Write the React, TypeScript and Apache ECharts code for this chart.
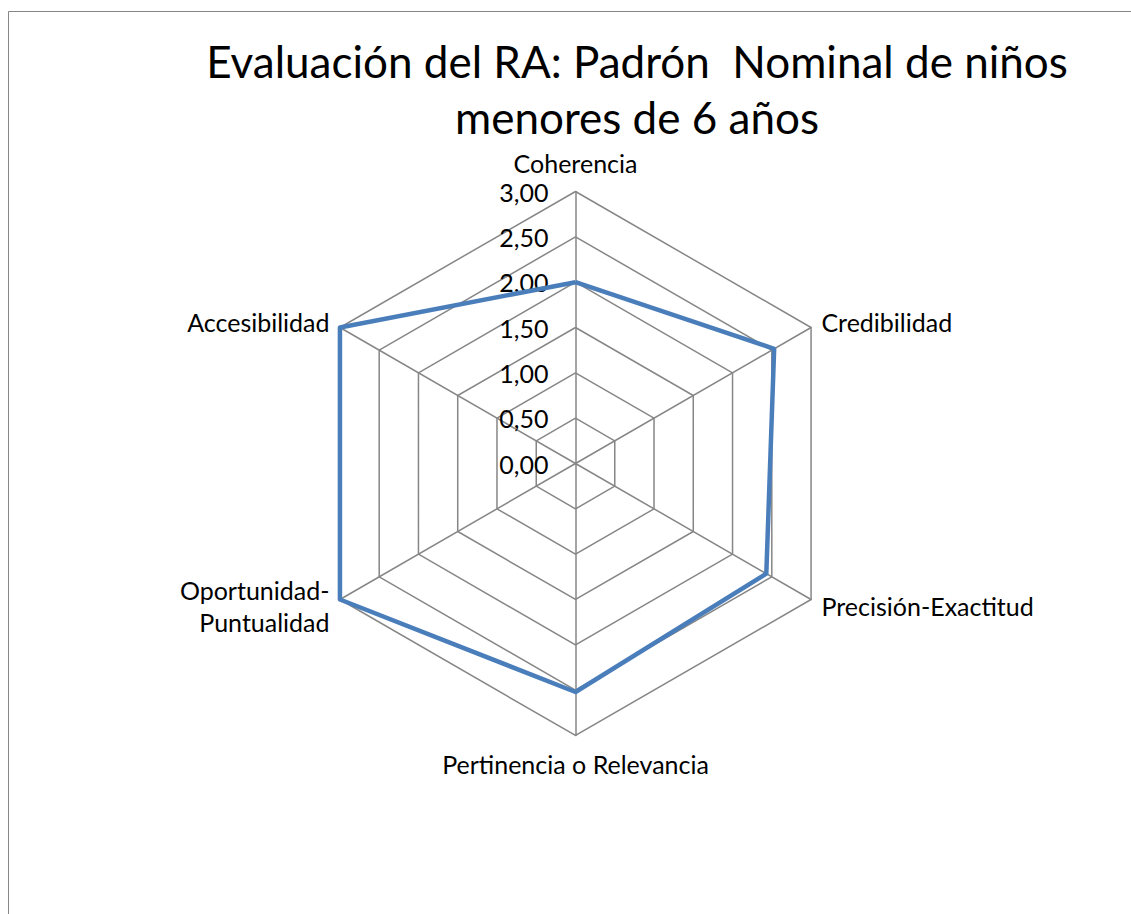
import React, { useEffect, useRef } from "react";
import * as echarts from "echarts";

const titleLines = ["Evaluación del RA: Padrón  Nominal de niños", "menores de 6 años"];
// clockwise order starting at the top
const categories = [
  "Coherencia",
  "Credibilidad",
  "Precisión-Exactitud",
  "Pertinencia o Relevancia",
  "Oportunidad-\nPuntualidad",
  "Accesibilidad",
];
const values = [2.0, 2.53, 2.43, 2.52, 3.0, 3.0];
const axisMax = 3;
const splitCount = 6;

const FONT = "Lato, 'Noto Sans', sans-serif";

// ECharts radar runs counter-clockwise; reorder so the picture runs clockwise
const order = categories.map((_, i) => (categories.length - i) % categories.length);

export default function App() {
  const ref = useRef<HTMLDivElement>(null);
  useEffect(() => {
    if (!ref.current) return;
    const chart = echarts.init(ref.current, null, { renderer: "svg" });
    chart.setOption({
      animation: false,
      backgroundColor: "#ffffff",
      textStyle: { fontFamily: FONT },
      title: {
        text: titleLines.join("\n"),
        left: 632,
        top: 28,
        textAlign: "center",
        textStyle: {
          fontFamily: FONT,
          fontSize: 44,
          fontWeight: "normal",
          color: "#000000",
          lineHeight: 56,
        },
      },
      graphic: [
        {
          type: "rect",
          shape: { x: 8.5, y: 11.5, width: 1200, height: 1000 },
          style: { fill: "none", stroke: "#868686", lineWidth: 1 },
          silent: true,
        },
      ],
      radar: {
        center: [575.5, 463.5],
        radius: 272,
        startAngle: 90,
        shape: "polygon",
        splitNumber: splitCount,
        nameGap: 12,
        axisName: {
          color: "#000000",
          fontFamily: FONT,
          fontSize: 25,
          lineHeight: 32,
        },
        indicator: order.map((idx, i) => ({
          name: categories[idx],
          min: 0,
          max: axisMax,
          ...(i === 0
            ? {
                axisLabel: {
                  show: true,
                  color: "#000000",
                  fontFamily: FONT,
                  fontSize: 25,
                  margin: 27,
                  padding: [6, 0, 0, 0],
                  formatter: (v: number) => v.toFixed(2).replace(".", ","),
                },
              }
            : {}),
        })),
        axisLine: { lineStyle: { color: "#868686", width: 1.5 } },
        splitLine: { lineStyle: { color: "#868686", width: 1.5 } },
        splitArea: { show: false },
        axisTick: { show: false },
        axisLabel: { show: false },
      },
      series: [
        {
          type: "radar",
          symbol: "none",
          lineStyle: { color: "#4a7ebb", width: 4.5 },
          data: [{ value: order.map((idx) => values[idx]), name: "Evaluación" }],
        },
      ],
    });
    return () => chart.dispose();
  }, []);
  return (
    <div
      ref={ref}
      style={{ position: "absolute", left: 0, top: 0, width: 1131, height: 914 }}
    />
  );
}
